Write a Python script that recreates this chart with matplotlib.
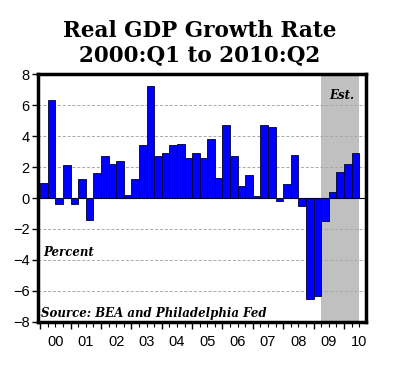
import matplotlib
matplotlib.use("Agg")
from matplotlib import pyplot as plt
from numpy import arange

# Dados (taxa anualizada, % por trimestre, 2000:Q1 a 2010:Q2)
years = ["00", "01", "02", "03", "04", "05", "06", "07", "08", "09", "10"]
growth = [1.0, 6.3, -0.4, 2.1, -0.4, 1.2, -1.4, 1.6,    # 2000-2001
          2.7, 2.2, 2.4, 0.2, 1.2, 3.4, 7.2, 2.7,       # 2002-2003
          2.9, 3.4, 3.5, 2.6, 2.9, 2.6, 3.8, 1.3,       # 2004-2005
          4.7, 2.7, 0.8, 1.5, 0.1, 4.7, 4.6, -0.2,      # 2006-2007
          0.9, 2.8, -0.5, -6.5, -6.3, -1.5, 0.4, 1.7,   # 2008-2009
          2.2, 2.9]                                     # 2010
est_start = 37  # primeiro trimestre estimado (2009:Q2)

q = arange(len(growth))

fig = plt.figure(figsize=(4.0, 3.65), dpi=100)
ax = fig.add_axes([0.095, 0.118, 0.82, 0.679])

ax.axvspan(est_start - 0.5, len(growth) - 0.5, color="#c0c0c0", lw=0, zorder=0)
for y in [-6, -4, -2, 2, 4, 6]:
    ax.axhline(y, color="#a8a8a8", lw=0.7, ls=(0, (3, 2)), zorder=1)
ax.axhline(0, color="black", lw=0.8, zorder=1)
ax.bar(q, growth, width=1.0, color="#0000ff", edgecolor="#000033", lw=0.6, zorder=2)

ax.set_xlim(-0.8, len(growth) + 0.4)
ax.set_ylim(-8, 8)
ax.set_yticks(range(-8, 9, 2))
ax.set_xticks(arange(-0.5, len(growth), 4))
ax.set_xticks(arange(-0.5, len(growth), 1), minor=True)
ax.set_xticklabels([])
for i, lab in enumerate(years):
    ax.text(i * 4 + 1.5, -8.85, lab, ha="center", va="top", fontsize=10.5,
            family="Liberation Sans")
ax.tick_params(axis="x", which="major", length=5, width=1, direction="out")
ax.tick_params(axis="x", which="minor", length=3.5, width=0.8, direction="out")
ax.tick_params(axis="y", length=4, width=1, direction="out", labelsize=10.5, pad=2)
for lab in ax.get_yticklabels():
    lab.set_family("Liberation Sans")
for s in ax.spines.values():
    s.set_linewidth(2.5)

ax.text(0.015, 0.28, "Percent", transform=ax.transAxes, fontsize=8.5,
        family="DejaVu Serif", weight="bold", style="italic", va="center")
ax.text(0.01, 0.035, "Source: BEA and Philadelphia Fed", transform=ax.transAxes,
        fontsize=8.5, family="DejaVu Serif", weight="bold", style="italic", va="center")
ax.text(39.2, 6.6, "Est.", ha="center", va="center", fontsize=8.5,
        family="DejaVu Serif", weight="bold", style="italic")

fig.text(0.5, 0.882, "Real GDP Growth Rate\n2000:Q1 to 2010:Q2", ha="center",
         va="center", fontsize=15.5, family="DejaVu Serif", weight="bold",
         linespacing=1.1)

fig.savefig("out.png", dpi=100)
